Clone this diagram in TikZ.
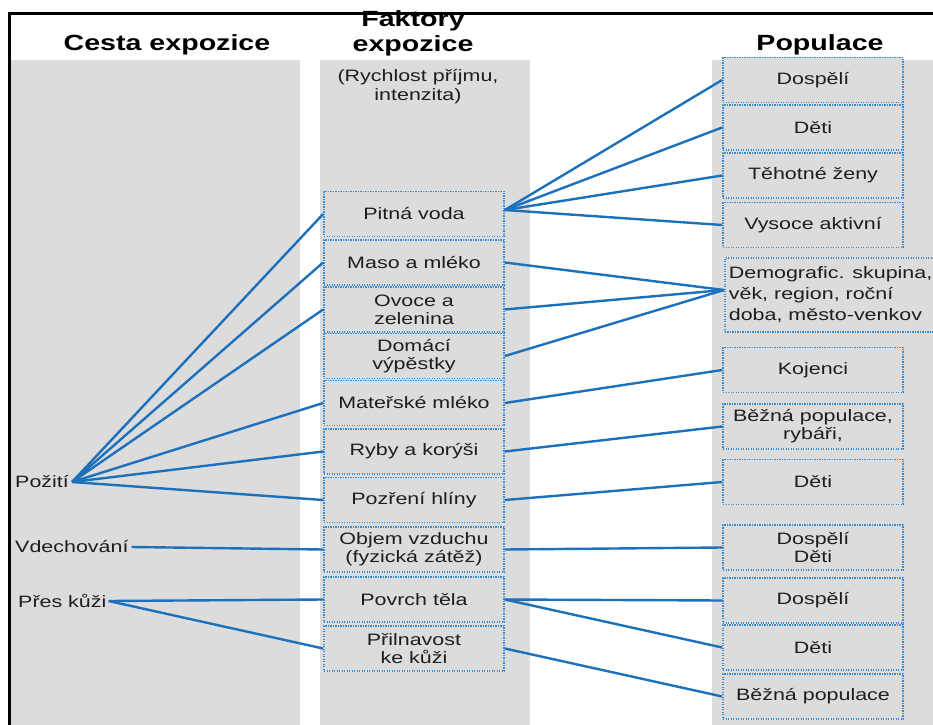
\documentclass[tikz,border=0pt]{standalone}
\usepackage{fontspec}
\setmainfont[FakeStretch=1.3]{Liberation Sans}
\definecolor{colgray}{RGB}{220,220,220}
\definecolor{lineblue}{RGB}{28,112,188}
\definecolor{dotblue}{RGB}{60,140,210}
\definecolor{txt}{RGB}{30,30,30}
\begin{document}
\begin{tikzpicture}[x=1bp,y=-1bp,
  box/.style={draw=dotblue, line width=1.7bp, dash pattern=on 1.3bp off 1.2bp,
    fill=colgray, minimum width=180bp, minimum height=45bp, inner sep=0pt,
    align=center, font=\fontsize{16.5bp}{18bp}\selectfont, text=txt},
  lbl/.style={anchor=west, inner sep=0pt, font=\fontsize{16.5bp}{18bp}\selectfont, text=txt},
  head/.style={inner sep=0pt, align=center, font=\fontsize{22bp}{25bp}\selectfont\bfseries, text=black},
  sub/.style={inner sep=0pt, align=center, font=\fontsize{16.5bp}{19bp}\selectfont, text=txt},
  conn/.style={draw=lineblue, line width=2.4bp}]
\useasboundingbox (0,0) rectangle (933,725);
% columns
\fill[colgray] (10,60) rectangle (300,725);
\fill[colgray] (320,60) rectangle (530,725);
\fill[colgray] (712,60) rectangle (933,725);
% frame
\draw[line width=3bp, line cap=rect] (933,14) -- (9,14) -- (9,725);
% headers
\node[head] (h1) at (167,45) {Cesta expozice};
\node[head] (h2) at (413,33) {Faktory\\expozice};
\node[head] (h3) at (820,45) {Populace};
\node[sub] (sub) at (418,87) {(Rychlost příjmu,\\intenzita)};
% left labels
\node[lbl] (pozi) at (15,482) {Požití};
\node[lbl] (vde) at (15,547) {Vdechování};
\node[lbl] (pres) at (18,601) {Přes kůži};
% middle boxes
\node[box] (pv) at (414,214) {Pitná voda};
\node[box] (mm) at (414,262.5) {Maso a mléko};
\node[box] (oz) at (414,309.5) {Ovoce a\\zelenina};
\node[box] (dv) at (414,356) {Domácí\\výpěstky};
\node[box] (mat) at (414,403) {Mateřské mléko};
\node[box] (ryb) at (414,451.5) {Ryby a korýši};
\node[box] (poz) at (414,500) {Pozření hlíny};
\node[box] (obj) at (414,549.5) {Objem vzduchu\\(fyzická zátěž)};
\node[box] (pov) at (414,599.5) {Povrch těla};
\node[box] (pril) at (414,648.5) {Přilnavost\\ke kůži};
% right boxes
\node[box] (r1) at (813,80) {Dospělí};
\node[box] (r2) at (813,127.5) {Děti};
\node[box] (r3) at (813,175.5) {Těhotné ženy};
\node[box] (r4) at (813,225) {Vysoce aktivní};
\node[box, anchor=west, minimum width=208bp, minimum height=74bp, inner xsep=4bp, align=left] (r5) at (724,295) {Demografic. skupina,\\[3bp]věk, region, roční\\[3bp]doba, město-venkov};
\node[box] (r6) at (813,370) {Kojenci};
\node[box] (r7) at (813,426.5) {Běžná populace,\\rybáři,};
\node[box] (r8) at (813,482) {Děti};
\node[box] (r9) at (813,547.5) {Dospělí\\Děti};
\node[box] (r10) at (813,600.5) {Dospělí};
\node[box] (r11) at (813,647.5) {Děti};
\node[box] (r12) at (813,696.5) {Běžná populace};
% connectors left
\coordinate (pz) at ([xshift=3bp]pozi.east);
\foreach \t in {pv,mm,oz,mat,ryb,poz} \draw[conn] (pz) -- (\t.west);
\draw[conn] ([xshift=3bp]vde.east) -- (obj.west);
\coordinate (pk) at ([xshift=2bp]pres.east);
\draw[conn] (pk) -- (pov.west);
\draw[conn] (pk) -- (pril.west);
% connectors right
\coordinate (pvo) at ([yshift=4bp]pv.east);
\foreach \t in {r1,r2,r3,r4} \draw[conn] (pvo) -- (\t.west);
\coordinate (dm) at ([yshift=5bp]r5.west);
\foreach \t in {mm,oz,dv} \draw[conn] (\t.east) -- (dm);
\draw[conn] (mat.east) -- (r6.west);
\draw[conn] (ryb.east) -- (r7.west);
\draw[conn] (poz.east) -- (r8.west);
\draw[conn] (obj.east) -- (r9.west);
\draw[conn] (pov.east) -- (r10.west);
\draw[conn] (pov.east) -- (r11.west);
\draw[conn] (pril.east) -- (r12.west);
\end{tikzpicture}
\end{document}
